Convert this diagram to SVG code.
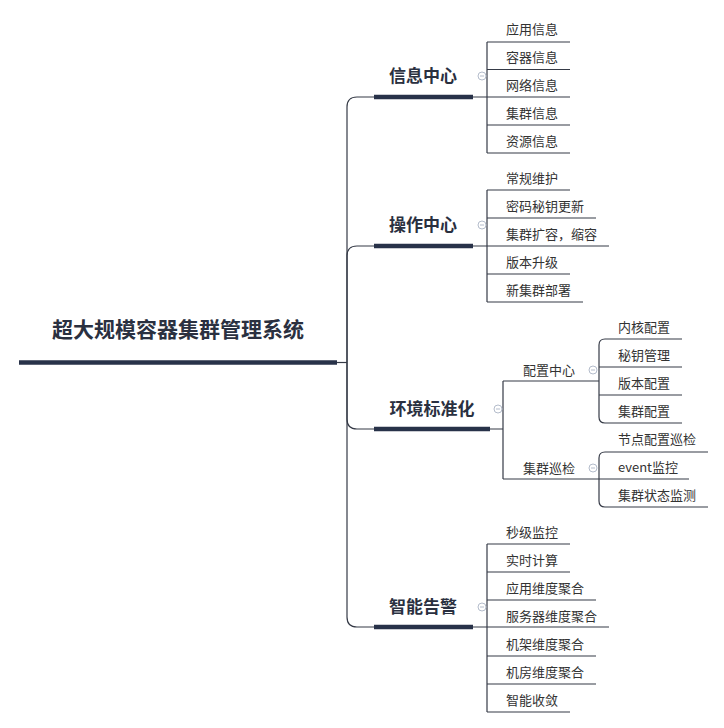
<svg xmlns="http://www.w3.org/2000/svg" width="724" height="728" viewBox="0 0 724 728">
<style>
.ln{fill:none;stroke:#353a46;stroke-width:1.2}
.bar{fill:none;stroke:#283249;stroke-width:4.5}
.root{font-family:"Noto Sans CJK SC","Noto Sans",sans-serif;font-size:21px;font-weight:bold;fill:#2a3040}
.br{font-family:"Noto Sans CJK SC","Noto Sans",sans-serif;font-size:17px;font-weight:bold;fill:#2a3040;text-anchor:middle}
.ch{font-family:"Noto Sans CJK SC","Noto Sans",sans-serif;font-size:13px;fill:#333333}
.cc{fill:#ffffff;stroke:#b4bccb;stroke-width:1}
.cm{stroke:#b4bccb;stroke-width:1}
</style>
<rect width="724" height="728" fill="#ffffff"/>
<g id="connectors">
  <path class="ln" d="M337 362.5 H347"/>
  <path class="ln" d="M347 362 V107 Q347 97 357 97 H487"/>
  <path class="ln" d="M347 362 V256 Q347 246 357 246 H487"/>
  <path class="ln" d="M347 362 V419 Q347 429 357 429 H503"/>
  <path class="ln" d="M347 362 V617 Q347 627 357 627 H487"/>
  <!-- branch 1 children -->
  <path class="ln" d="M487 42 V153"/>
  <path class="ln" d="M487 42 H570 M487 69.5 H570 M487 97 H570 M487 125 H570 M487 153 H570"/>
  <!-- branch 2 children -->
  <path class="ln" d="M487 190 V302"/>
  <path class="ln" d="M487 190 H570 M487 218 H596 M487 246 H609 M487 274 H570 M487 302 H583"/>
  <!-- branch 3 -->
  <path class="ln" d="M503 381 V479 M503 381 H599 M503 479 H599"/>
  <path class="ln" d="M682 339 H605 Q599 339 599 345 V417 Q599 423 605 423 H682 M599 367 H682 M599 395 H682"/>
  <path class="ln" d="M708 452 H605 Q599 452 599 458 V501 Q599 507 605 507 H708 M599 479 H689"/>
  <!-- branch 4 children -->
  <path class="ln" d="M487 544 V712"/>
  <path class="ln" d="M487 544 H570 M487 572 H570 M487 600 H596 M487 627 H609 M487 656 H596 M487 684 H596 M487 712 H570"/>
</g>
<g id="root">
  <text class="root" x="178" y="337" text-anchor="middle">超大规模容器集群管理系统</text>
  <path class="bar" d="M19 362.5 H337"/>
</g>
<g id="b1">
  <text class="br" x="423" y="82">信息中心</text>
  <path class="bar" d="M374 97 H473"/>
  <circle class="cc" cx="482" cy="76" r="4"/><path class="cm" d="M480 76 H484"/>
</g>
<g id="b1c">
  <text class="ch" x="506" y="34">应用信息</text>
  <text class="ch" x="506" y="62">容器信息</text>
  <text class="ch" x="506" y="90">网络信息</text>
  <text class="ch" x="506" y="118">集群信息</text>
  <text class="ch" x="506" y="146">资源信息</text>
</g>
<g id="b2">
  <text class="br" x="423" y="231">操作中心</text>
  <path class="bar" d="M374 246 H473"/>
  <circle class="cc" cx="482" cy="225" r="4"/><path class="cm" d="M480 225 H484"/>
</g>
<g id="b2c">
  <text class="ch" x="506" y="183">常规维护</text>
  <text class="ch" x="506" y="211">密码秘钥更新</text>
  <text class="ch" x="506" y="239">集群扩容，缩容</text>
  <text class="ch" x="506" y="267">版本升级</text>
  <text class="ch" x="506" y="295">新集群部署</text>
</g>
<g id="b3">
  <text class="br" x="432" y="415">环境标准化</text>
  <path class="bar" d="M374 429 H490"/>
  <circle class="cc" cx="498" cy="409" r="4"/><path class="cm" d="M496 409 H500"/>
</g>
<g id="b3a">
  <text class="ch" x="523" y="375">配置中心</text>
  <circle class="cc" cx="593" cy="370" r="4"/><path class="cm" d="M591 370 H595"/>
  <text class="ch" x="618" y="332">内核配置</text>
  <text class="ch" x="618" y="360">秘钥管理</text>
  <text class="ch" x="618" y="388">版本配置</text>
  <text class="ch" x="618" y="416">集群配置</text>
</g>
<g id="b3b">
  <text class="ch" x="523" y="473">集群巡检</text>
  <circle class="cc" cx="593" cy="468" r="4"/><path class="cm" d="M591 468 H595"/>
  <text class="ch" x="618" y="444">节点配置巡检</text>
  <text class="ch" x="618" y="472">event监控</text>
  <text class="ch" x="618" y="500">集群状态监测</text>
</g>
<g id="b4">
  <text class="br" x="423" y="613">智能告警</text>
  <path class="bar" d="M374 627 H473"/>
  <circle class="cc" cx="482" cy="607" r="4"/><path class="cm" d="M480 607 H484"/>
</g>
<g id="b4c">
  <text class="ch" x="506" y="537">秒级监控</text>
  <text class="ch" x="506" y="565">实时计算</text>
  <text class="ch" x="506" y="593">应用维度聚合</text>
  <text class="ch" x="506" y="621">服务器维度聚合</text>
  <text class="ch" x="506" y="649">机架维度聚合</text>
  <text class="ch" x="506" y="677">机房维度聚合</text>
  <text class="ch" x="506" y="705">智能收敛</text>
</g>
</svg>
